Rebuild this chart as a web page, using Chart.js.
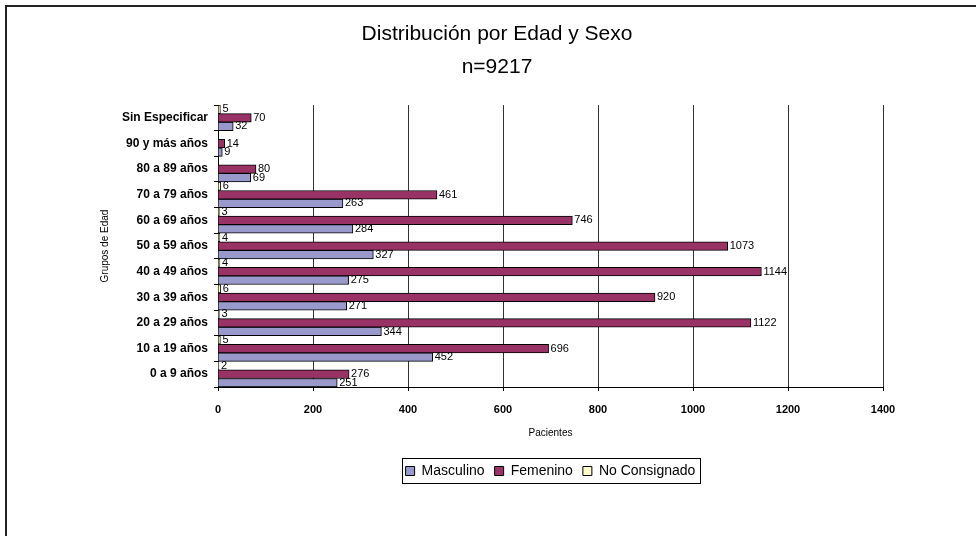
<!DOCTYPE html>
<html>
<head>
<meta charset="utf-8">
<script src="https://cdn.jsdelivr.net/npm/chart.js@4/dist/chart.umd.min.js"></script>
<style>
  html, body { margin: 0; padding: 0; background: #fff; }
  #wrap { width: 976px; height: 536px; position: relative; }
</style>
</head>
<body>
<div id="wrap"><canvas id="c" width="976" height="536"></canvas></div>
<script>
// Categories listed top to bottom as they appear on the chart
const categories = ['Sin Especificar', '90 y más años', '80 a 89 años', '70 a 79 años', '60 a 69 años',
  '50 a 59 años', '40 a 49 años', '30 a 39 años', '20 a 29 años', '10 a 19 años', '0 a 9 años'];
const masculino    = [32, 9, 69, 263, 284, 327, 275, 271, 344, 452, 251];
const femenino     = [70, 14, 80, 461, 746, 1073, 1144, 920, 1122, 696, 276];
const noConsignado = [5, null, null, 6, 3, 4, 4, 6, 3, 5, 2];
const xTicks = [0, 200, 400, 600, 800, 1000, 1200, 1400];
const titleLines = ['Distribución por Edad y Sexo', 'n=9217'];

const FONT = "'Liberation Sans', Arial, sans-serif";

const framePlugin = {
  id: 'frame',
  beforeDraw(chart) {
    const ctx = chart.ctx;
    ctx.save();
    ctx.fillStyle = '#fff';
    ctx.fillRect(0, 0, chart.width, chart.height);
    ctx.strokeStyle = '#222';
    ctx.lineWidth = 2;
    ctx.beginPath();
    ctx.moveTo(6, chart.height);
    ctx.lineTo(6, 6);
    ctx.lineTo(chart.width, 6);
    ctx.stroke();
    ctx.restore();
  }
};

const valueLabels = {
  id: 'valueLabels',
  afterDatasetsDraw(chart) {
    const ctx = chart.ctx;
    ctx.save();
    ctx.font = '11px ' + FONT;
    ctx.fillStyle = '#000';
    ctx.textBaseline = 'middle';
    ctx.textAlign = 'left';
    chart.data.datasets.forEach((ds, di) => {
      const meta = chart.getDatasetMeta(di);
      meta.data.forEach((el, i) => {
        const v = ds.data[i];
        if (v === null || v === undefined) return;
        ctx.fillText(String(v), el.x + 2, el.y);
      });
    });
    ctx.restore();
  }
};

const legendBox = {
  id: 'legendBox',
  afterDraw(chart) {
    const lg = chart.legend;
    if (!lg || !lg.legendHitBoxes || !lg.legendHitBoxes.length) return;
    const hb = lg.legendHitBoxes;
    let l = Infinity, r = -Infinity, t = Infinity, b = -Infinity;
    hb.forEach(h => {
      l = Math.min(l, h.left); r = Math.max(r, h.left + h.width);
      t = Math.min(t, h.top); b = Math.max(b, h.top + h.height);
    });
    const ctx = chart.ctx;
    ctx.save();
    ctx.strokeStyle = '#000';
    ctx.lineWidth = 1;
    ctx.strokeRect(Math.round(l - 4) + 0.5, Math.round(t - 6) + 0.5, Math.round(r - l + 8), Math.round(b - t + 11));
    ctx.restore();
  }
};

new Chart(document.getElementById('c'), {
  type: 'bar',
  data: {
    labels: categories,
    datasets: [
      { label: 'No Consignado', data: noConsignado, backgroundColor: '#FFFFCC', borderColor: '#000', borderWidth: 1 },
      { label: 'Femenino', data: femenino, backgroundColor: '#993366', borderColor: '#000', borderWidth: 1 },
      { label: 'Masculino', data: masculino, backgroundColor: '#9999CC', borderColor: '#000', borderWidth: 1 }
    ]
  },
  options: {
    indexAxis: 'y',
    responsive: false,
    animation: false,
    devicePixelRatio: 1,
    datasets: { bar: { categoryPercentage: 1.0, barPercentage: 1.0 } },
    layout: { padding: { left: 111, right: 93, top: 5, bottom: 48 } },
    scales: {
      x: {
        min: 0, max: 1400,
        afterBuildTicks(scale) { scale.ticks = xTicks.map(v => ({ value: v })); },
        afterFit(scale) { scale.height = 67; },
        grid: { color: '#333', lineWidth: 1, drawTicks: true, tickLength: 4, tickColor: '#000' },
        border: { color: '#000', width: 1 },
        ticks: {
          color: '#000', padding: 12, font: { family: FONT, size: 11, weight: 'bold' },
          callback: (v) => String(v)
        },
        title: { display: true, text: 'Pacientes', color: '#000', font: { family: FONT, size: 10 }, padding: { top: 0, bottom: 15 } }
      },
      y: {
        afterFit(scale) { scale.width = 107; },
        grid: { display: true, drawOnChartArea: false, drawTicks: true, tickLength: 4, tickColor: '#000', offset: true },
        border: { color: '#000', width: 1 },
        ticks: { color: '#000', padding: 6, font: { family: FONT, size: 12, weight: 'bold' } },
        title: { display: true, text: 'Grupos de Edad', color: '#000', font: { family: FONT, size: 10 }, padding: { top: -12, bottom: 0 } }
      }
    },
    plugins: {
      title: {
        display: true,
        text: titleLines,
        color: '#000',
        font: { family: FONT, size: 21, weight: 'normal', lineHeight: 1.55 },
        padding: { top: 13, bottom: 22 }
      },
      legend: {
        display: true,
        position: 'bottom',
        fullSize: false,
        reverse: true,
        labels: {
          color: '#000',
          boxWidth: 9, boxHeight: 9,
          padding: 10,
          font: { family: FONT, size: 14 },
          generateLabels(chart) {
            return chart.data.datasets.map((ds, i) => ({
              text: ds.label, fillStyle: ds.backgroundColor, strokeStyle: '#000', lineWidth: 1,
              fontColor: '#000', hidden: false, datasetIndex: i
            }));
          }
        }
      },
      tooltip: { enabled: false }
    }
  },
  plugins: [framePlugin, valueLabels, legendBox]
});
</script>
</body>
</html>
